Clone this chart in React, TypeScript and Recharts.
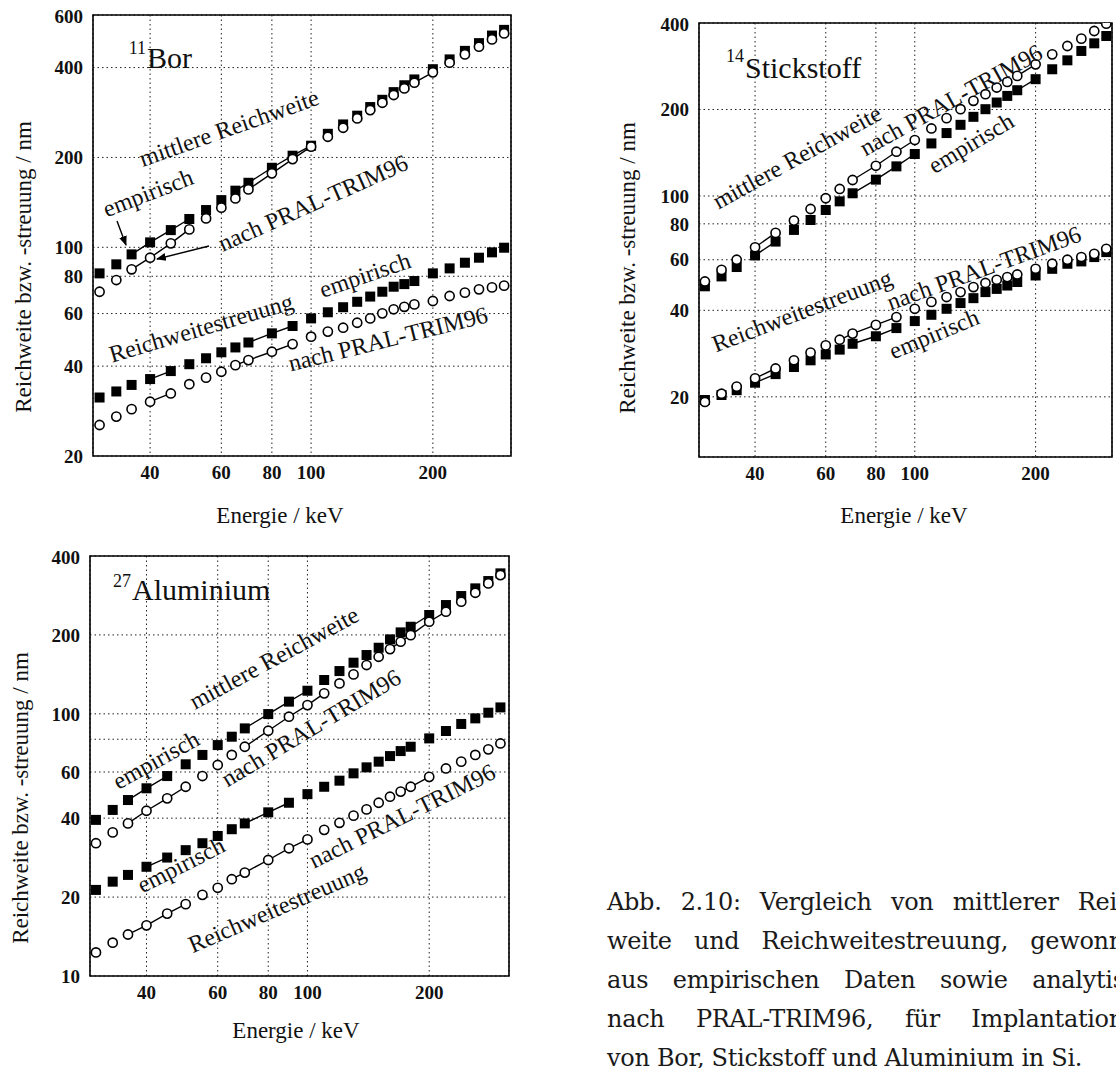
import React from 'react';
import { ScatterChart, Scatter, XAxis, YAxis, CartesianGrid, ReferenceArea } from 'recharts';

// Energie / keV, gleich für alle drei Diagramme
const energies = [30, 33, 36, 40, 45, 50, 55, 60, 65, 70, 80, 90, 100, 110, 120, 130, 140, 150, 160, 170, 180, 200, 220, 240, 260, 280, 300];
const xTicks = [40, 60, 80, 100, 200];

// 11B, nm
const borRangeEmp = [81.8, 87.7, 94.7, 103.9, 114.2, 124.4, 133.3, 143.9, 154.8, 164.5, 184.7, 202.7, 219, 240, 258, 276, 295, 312, 331, 349, 365, 395, 426, 455, 483, 512, 535];
const borRangePral = [71.0, 77.7, 84.4, 92.3, 103.1, 114.8, 125.0, 135.8, 145.8, 156.3, 176.9, 197.5, 217.4, 234.6, 251.5, 270.3, 288.2, 305, 323.6, 340.7, 356, 385.6, 415.3, 442.7, 469.9, 497, 520.7];
const borStragEmp = [31.4, 32.9, 34.6, 36.2, 38.5, 40.6, 42.5, 44.5, 46.2, 48.0, 51.5, 54.5, 57.8, 60.6, 63.0, 65.7, 68.4, 71.0, 73.8, 75.3, 77.1, 81.8, 85.0, 88.8, 92.3, 96.2, 99.7];
const borStragPral = [25.4, 27.1, 28.7, 30.4, 32.4, 34.8, 36.6, 38.3, 40.3, 41.9, 44.7, 47.4, 50.2, 52.2, 53.8, 55.9, 57.8, 60.1, 62.0, 63.2, 64.4, 66.1, 68.7, 70.5, 72.3, 73.4, 74.4];
const borYTicks = [20, 40, 60, 80, 100, 200, 400, 600];

// 14N, nm
const nRangeEmp = [48.5, 52.5, 56.6, 62.1, 69.4, 76.2, 82.5, 89.4, 95.8, 102.2, 114.0, 126.8, 140.0, 152.4, 165.6, 176.9, 188.6, 200.5, 211.5, 223.0, 233.4, 255.0, 276.1, 296.6, 319.7, 339.9, 360.4];
const nRangePral = [50.4, 55.3, 60.0, 66.3, 74.4, 82.1, 90.1, 98.2, 105.8, 113.7, 127.4, 142.6, 156.6, 171.8, 186.6, 200.5, 214.4, 226.1, 238.5, 249.5, 261.8, 287.2, 311.2, 332.7, 352.8, 375.2, 397.8];
const nStragEmp = [19.5, 20.3, 21.1, 22.4, 24.0, 25.4, 26.8, 28.1, 29.2, 30.6, 32.5, 34.7, 36.7, 38.6, 40.5, 42.4, 44.1, 46.3, 47.5, 48.8, 50.2, 52.9, 55.8, 58.1, 59.2, 61.3, 63.8];
const nStragPral = [19.2, 20.5, 21.7, 23.2, 25.1, 26.8, 28.5, 30.2, 31.6, 33.2, 35.6, 37.9, 40.5, 42.8, 44.5, 46.3, 48.2, 49.8, 51.1, 52.2, 53.3, 55.8, 58.1, 60.0, 61.3, 62.9, 65.5];
const nYTicks = [20, 40, 60, 80, 100, 200, 400];

// 27Al, nm
const alRangeEmp = [39.4, 43.0, 46.9, 52.0, 57.9, 64.2, 69.7, 76.0, 81.8, 88.0, 99.8, 111.3, 122.5, 134.6, 145.6, 156.7, 167.6, 178.7, 192.3, 204.5, 214.9, 238.2, 260.0, 281.4, 301.0, 321.0, 343.4];
const alRangePral = [32.1, 35.3, 38.2, 42.7, 47.6, 52.7, 57.9, 63.8, 69.7, 74.9, 86.2, 97.5, 108.0, 119.7, 130.6, 141.4, 153.5, 165.1, 176.6, 188.4, 199.6, 224.6, 245.2, 267.7, 289.7, 314.5, 338.2];
const alStragEmp = [21.3, 22.9, 24.3, 26.1, 28.3, 30.2, 32.1, 34.2, 36.3, 38.2, 42.1, 45.8, 49.4, 52.7, 55.6, 59.3, 62.5, 65.7, 69.0, 72.1, 74.9, 80.6, 86.0, 91.5, 96.1, 101.0, 105.8];
const alStragPral = [12.3, 13.4, 14.4, 15.6, 17.3, 18.8, 20.4, 21.7, 23.4, 24.8, 27.7, 30.7, 33.2, 36.1, 38.4, 40.9, 43.2, 45.8, 48.3, 50.5, 52.7, 57.5, 61.9, 65.7, 69.7, 73.2, 77.1];
const alYTicks = [10, 20, 40, 60, 80, 100, 200, 400];

const serif = 'Liberation Serif, Times New Roman, serif';

type Series = { values: number[]; marker: 'square' | 'circle'; links: number[][] };

const toPoints = (values: number[]) => energies.map((e, i) => ({ e, v: values[i] }));

const squareShape = (p: any) => <rect x={p.cx - 5} y={p.cy - 5} width={10} height={10} fill="#000" />;
const circleShape = (p: any) => <circle cx={p.cx} cy={p.cy} r={4.6} fill="#fff" stroke="#000" strokeWidth={1.6} />;
const noShape = () => <g />;

type PanelProps = {
  box: number[];
  xDomain: number[];
  yDomain: number[];
  yTicks: number[];
  series: Series[];
};

const Panel = ({ box, xDomain, yDomain, yTicks, series }: PanelProps) => {
  const [x0, y0, x1, y1] = box;
  const padL = 80;
  const padT = 10;
  const padR = 10;
  const padB = 60;
  const ordered = [...series.filter((s) => s.marker === 'square'), ...series.filter((s) => s.marker === 'circle')];
  return (
    <div style={{ position: 'absolute', left: x0 - padL, top: y0 - padT }}>
      <ScatterChart
        width={x1 - x0 + padL + padR}
        height={y1 - y0 + padT + padB}
        margin={{ top: padT, right: padR, bottom: 0, left: 0 }}
      >
        <CartesianGrid stroke="#222" strokeDasharray="1.5 3" strokeWidth={1} />
        <XAxis
          type="number"
          dataKey="e"
          scale="log"
          domain={xDomain}
          ticks={xTicks}
          allowDataOverflow
          height={padB}
          axisLine={false}
          tickLine={false}
          tickSize={6}
          tickMargin={4}
          tick={{ fill: '#111', fontSize: 19, fontFamily: serif, fontWeight: 'bold' }}
        />
        <YAxis
          type="number"
          dataKey="v"
          scale="log"
          domain={yDomain}
          ticks={yTicks}
          allowDataOverflow
          width={padL}
          axisLine={false}
          tickLine={false}
          tickSize={6}
          tickMargin={4}
          tick={{ fill: '#111', fontSize: 19, fontFamily: serif, fontWeight: 'bold' }}
        />
        <ReferenceArea
          x1={xDomain[0]}
          x2={xDomain[1]}
          y1={yDomain[0]}
          y2={yDomain[1]}
          fill="none"
          fillOpacity={0}
          stroke="#000"
          strokeWidth={1.6}
        />
        {series.flatMap((s, si) =>
          s.links.map(([a, b], li) => (
            <Scatter
              key={`l${si}-${li}`}
              data={toPoints(s.values).filter((p) => p.e >= a && p.e <= b)}
              line={{ stroke: '#000', strokeWidth: 1.4 }}
              shape={noShape}
              isAnimationActive={false}
            />
          ))
        )}
        {ordered.map((s, si) => (
          <Scatter
            key={`m${si}`}
            data={toPoints(s.values)}
            shape={s.marker === 'square' ? squareShape : circleShape}
            isAnimationActive={false}
          />
        ))}
      </ScatterChart>
    </div>
  );
};

type Note = { x: number; y: number; a: number; t: string; size?: number };

const notes: Note[] = [
  // 11B
  { x: 229, y: 128, a: -19.5, t: 'mittlere Reichweite' },
  { x: 148, y: 193, a: -21, t: 'empirisch' },
  { x: 313, y: 203, a: -24, t: 'nach PRAL-TRIM96' },
  { x: 201, y: 328, a: -16.5, t: 'Reichweitestreuung' },
  { x: 365, y: 275, a: -19, t: 'empirisch' },
  { x: 388, y: 339, a: -14, t: 'nach PRAL-TRIM96' },
  // 14N
  { x: 797, y: 157, a: -29, t: 'mittlere Reichweite' },
  { x: 951, y: 100, a: -29, t: 'nach PRAL-TRIM96' },
  { x: 971, y: 143, a: -31, t: 'empirisch' },
  { x: 802, y: 311, a: -21, t: 'Reichweitestreuung' },
  { x: 984, y: 268, a: -20, t: 'nach PRAL-TRIM96' },
  { x: 934, y: 334, a: -22.5, t: 'empirisch' },
  // 27Al
  { x: 274, y: 658, a: -28.5, t: 'mittlere Reichweite' },
  { x: 156, y: 760, a: -29, t: 'empirisch' },
  { x: 311, y: 728, a: -31, t: 'nach PRAL-TRIM96' },
  { x: 181, y: 865, a: -27, t: 'empirisch' },
  { x: 402, y: 816, a: -26.5, t: 'nach PRAL-TRIM96' },
  { x: 277, y: 908, a: -23.5, t: 'Reichweitestreuung' },
];

const yTitle = 'Reichweite bzw. -streuung / nm';
const xTitle = 'Energie / keV';

const captionLines = [
  'Abb. 2.10: Vergleich von mittlerer Reich-',
  'weite und Reichweitestreuung, gewonnen',
  'aus empirischen Daten sowie analytisch',
  'nach PRAL-TRIM96, für Implantationen',
  'von Bor, Stickstoff und Aluminium in Si.',
];

const Overlay = () => (
  <svg width={1116} height={1068} style={{ position: 'absolute', left: 0, top: 0 }} fontFamily={serif} fill="#111">
    <defs>
      <marker id="arrow" viewBox="0 0 10 10" refX="9" refY="5" markerWidth="7" markerHeight="7" orient="auto">
        <path d="M0,1 L10,5 L0,9 z" fill="#000" />
      </marker>
    </defs>
    {/* Titel */}
    <text x={146} y={54} fontSize={18} textAnchor="end">11</text>
    <text x={147} y={68} fontSize={30}>Bor</text>
    <text x={744} y={62} fontSize={18} textAnchor="end">14</text>
    <text x={745} y={78} fontSize={30}>Stickstoff</text>
    <text x={131} y={587} fontSize={18} textAnchor="end">27</text>
    <text x={132} y={600} fontSize={30}>Aluminium</text>

    {/* Achsentitel */}
    <text transform="translate(23,267) rotate(-90)" fontSize={23} textAnchor="middle" dominantBaseline="central">{yTitle}</text>
    <text transform="translate(627,268) rotate(-90)" fontSize={23} textAnchor="middle" dominantBaseline="central">{yTitle}</text>
    <text transform="translate(20,798) rotate(-90)" fontSize={23} textAnchor="middle" dominantBaseline="central">{yTitle}</text>
    <text x={280} y={515} fontSize={23} textAnchor="middle" dominantBaseline="central">{xTitle}</text>
    <text x={904} y={515} fontSize={23} textAnchor="middle" dominantBaseline="central">{xTitle}</text>
    <text x={296} y={1030} fontSize={23} textAnchor="middle" dominantBaseline="central">{xTitle}</text>

    {notes.map((n, i) => (
      <text
        key={i}
        transform={`translate(${n.x},${n.y}) rotate(${n.a})`}
        fontSize={n.size ?? 24}
        textAnchor="middle"
        dominantBaseline="central"
      >
        {n.t}
      </text>
    ))}

    {/* Pfeile im Bor-Diagramm */}
    <line x1={117} y1={221} x2={126} y2={245} stroke="#000" strokeWidth={1.4} markerEnd="url(#arrow)" />
    <line x1={209} y1={246} x2={157} y2={259} stroke="#000" strokeWidth={1.4} markerEnd="url(#arrow)" />
  </svg>
);

const Caption = () => (
  <div
    style={{
      position: 'absolute',
      left: 607,
      top: 883,
      fontFamily: 'DejaVu Serif, serif',
      fontSize: 24,
      letterSpacing: -0.3,
      color: '#1a1a1a',
    }}
  >
    {captionLines.map((line, i) => {
      const last = i === captionLines.length - 1;
      return (
        <div
          key={i}
          style={{
            width: 546,
            height: 39,
            lineHeight: '39px',
            whiteSpace: 'nowrap',
            textAlign: last ? 'left' : 'justify',
            textAlignLast: last ? 'left' : 'justify',
          }}
        >
          {line}
        </div>
      );
    })}
  </div>
);

export default function App() {
  return (
    <div style={{ position: 'absolute', left: 0, top: 0, width: 1116, height: 1068, overflow: 'hidden', background: '#fff' }}>
      <Panel
        box={[93, 15, 511, 456]}
        xDomain={[28.9, 312]}
        yDomain={[20, 600]}
        yTicks={borYTicks}
        series={[
          { values: borRangeEmp, marker: 'square', links: [[36, 50], [65, 100]] },
          { values: borRangePral, marker: 'circle', links: [[36, 50], [70, 100], [180, 200]] },
          { values: borStragEmp, marker: 'square', links: [[40, 45], [70, 90]] },
          { values: borStragPral, marker: 'circle', links: [[40, 45], [65, 90]] },
        ]}
      />
      <Panel
        box={[699, 23, 1112, 457]}
        xDomain={[29, 310]}
        yDomain={[12.35, 400]}
        yTicks={nYTicks}
        series={[
          { values: nRangeEmp, marker: 'square', links: [[40, 45], [70, 100], [180, 200]] },
          { values: nRangePral, marker: 'circle', links: [[40, 45], [70, 100], [180, 200]] },
          { values: nStragEmp, marker: 'square', links: [[40, 45], [70, 90]] },
          { values: nStragPral, marker: 'circle', links: [[40, 45], [65, 90]] },
        ]}
      />
      <Panel
        box={[90, 556, 509, 976]}
        xDomain={[29, 315]}
        yDomain={[10, 400]}
        yTicks={alYTicks}
        series={[
          { values: alRangeEmp, marker: 'square', links: [[36, 45], [70, 100], [180, 200]] },
          { values: alRangePral, marker: 'circle', links: [[36, 50], [70, 110], [160, 220]] },
          { values: alStragEmp, marker: 'square', links: [[40, 45], [70, 90]] },
          { values: alStragPral, marker: 'circle', links: [[36, 50], [65, 100], [170, 200]] },
        ]}
      />
      <Overlay />
      <Caption />
    </div>
  );
}
